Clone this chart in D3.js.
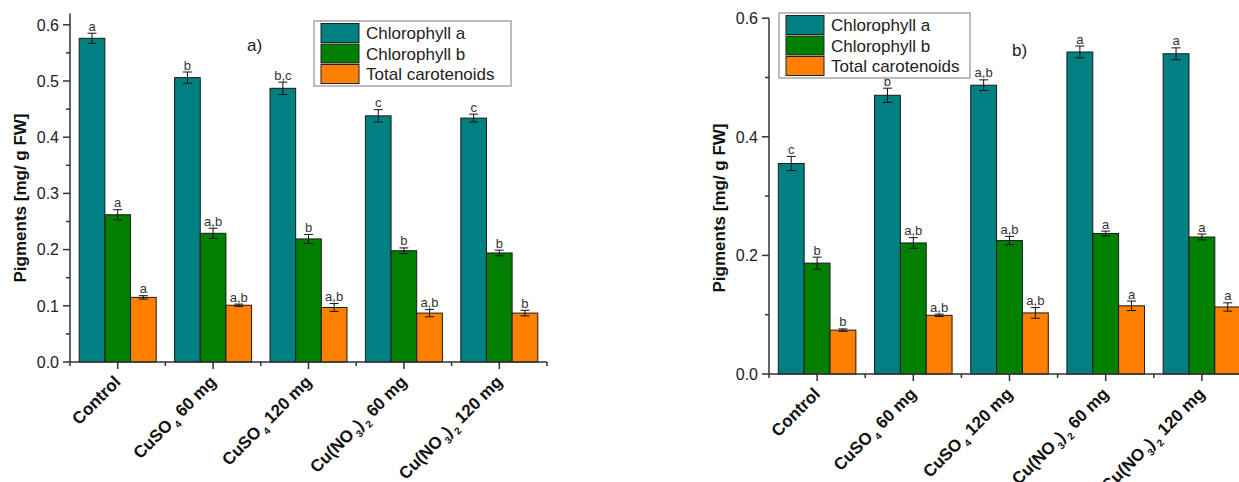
<!DOCTYPE html>
<html><head><meta charset="utf-8">
<script src="https://cdn.jsdelivr.net/npm/d3@7"></script>
<style>body{margin:0;background:#fff;} svg{display:block;}</style>
</head><body>
<svg id="chart" width="1239" height="482"></svg>
<script>
// ---------- DATA ----------
const categories = ["Control", "CuSO4 60 mg", "CuSO4 120 mg", "Cu(NO3)2 60 mg", "Cu(NO3)2 120 mg"];
const seriesNames = ["Chlorophyll a", "Chlorophyll b", "Total carotenoids"];
const seriesColors = ["#008080", "#007f00", "#ff8000"];

// panel a)
const a_chlA = [0.576, 0.506, 0.487, 0.438, 0.434];
const a_chlA_err = [0.009, 0.010, 0.011, 0.011, 0.007];
const a_chlB = [0.262, 0.229, 0.219, 0.198, 0.194];
const a_chlB_err = [0.009, 0.009, 0.008, 0.005, 0.005];
const a_car = [0.115, 0.101, 0.097, 0.087, 0.087];
const a_car_err = [0.003, 0.002, 0.007, 0.0066, 0.005];
const a_lettersA = ["a", "b", "b,c", "c", "c"];
const a_lettersB = ["a", "a,b", "b", "b", "b"];
const a_lettersC = ["a", "a,b", "a,b", "a,b", "b"];
const a_ticks = [0.0, 0.1, 0.2, 0.3, 0.4, 0.5, 0.6];

// panel b)
const b_chlA = [0.355, 0.470, 0.487, 0.543, 0.540];
const b_chlA_err = [0.012, 0.012, 0.009, 0.010, 0.010];
const b_chlB = [0.187, 0.221, 0.225, 0.237, 0.231];
const b_chlB_err = [0.010, 0.009, 0.007, 0.004, 0.005];
const b_car = [0.074, 0.099, 0.103, 0.115, 0.113];
const b_car_err = [0.002, 0.002, 0.009, 0.008, 0.007];
const b_lettersA = ["c", "b", "a,b", "a", "a"];
const b_lettersB = ["b", "a,b", "a,b", "a", "a"];
const b_lettersC = ["b", "a,b", "a,b", "a", "a"];
const b_ticks = [0.0, 0.2, 0.4, 0.6];

const yTitle = "Pigments [mg/ g FW]";

// ---------- DRAW ----------
const svg = d3.select("#chart");
const FONT = "'Liberation Sans', Arial, sans-serif";
const AXIS = "#333";

function addLabel(textSel, label) {
  const sp = label.indexOf(" ");
  const chem = sp < 0 ? label : label.slice(0, sp);
  const rest = sp < 0 ? "" : label.slice(sp);
  const parts = chem.split(/(\d)/).filter(s => s.length);
  let sub = false;
  parts.forEach(p => {
    const isDigit = /^\d$/.test(p);
    const t = textSel.append("tspan").text(p);
    if (isDigit && !sub) { t.attr("dy", 5).attr("font-size", "10px").attr("dx", 2); sub = true; }
    else if (isDigit && sub) { t.attr("font-size", "10px"); }
    else if (!isDigit && sub) { t.attr("dy", -5); sub = false; }
  });
  if (rest) {
    const t = textSel.append("tspan").text(rest);
    if (sub) t.attr("dy", -5);
  }
}

function drawPanel(cfg) {
  const g = svg.append("g");
  const y = d3.scaleLinear().domain(cfg.yDomain).range([cfg.y0, cfg.yTop]);
  const x = d3.scaleBand().domain(categories).range([cfg.x0, cfg.x0 + cfg.bandW * categories.length]).padding(0);
  const bw = x.bandwidth();
  const inner = d3.scaleBand().domain(seriesNames)
    .range([bw * (1 - cfg.groupFrac) / 2, bw * (1 + cfg.groupFrac) / 2]).padding(0);

  const series = [
    { name: seriesNames[0], vals: cfg.chlA, errs: cfg.chlAErr, letters: cfg.lA },
    { name: seriesNames[1], vals: cfg.chlB, errs: cfg.chlBErr, letters: cfg.lB },
    { name: seriesNames[2], vals: cfg.car, errs: cfg.carErr, letters: cfg.lC }
  ];

  const letterG = [];
  series.forEach((s, si) => {
    const data = categories.map((c, i) => ({ c, v: s.vals[i], e: s.errs[i], l: s.letters[i] }));
    const sg = g.append("g");
    sg.selectAll("rect").data(data).join("rect")
      .attr("x", d => x(d.c) + inner(s.name))
      .attr("y", d => y(d.v))
      .attr("width", inner.bandwidth())
      .attr("height", d => y(0) - y(d.v))
      .attr("fill", seriesColors[si])
      .attr("stroke", "#1a1a1a").attr("stroke-width", 1);
    const cx = d => x(d.c) + inner(s.name) + inner.bandwidth() / 2;
    sg.selectAll("line.eb").data(data).join("line").attr("class", "eb")
      .attr("x1", cx).attr("x2", cx)
      .attr("y1", d => y(d.v + d.e)).attr("y2", d => y(d.v - d.e))
      .attr("stroke", "#111").attr("stroke-width", 1);
    ["t", "b"].forEach(k => {
      sg.selectAll("line.cap" + k).data(data).join("line")
        .attr("class", "cap" + k)
        .attr("x1", d => cx(d) - 4.5).attr("x2", d => cx(d) + 4.5)
        .attr("y1", d => y(k === "t" ? d.v + d.e : d.v - d.e))
        .attr("y2", d => y(k === "t" ? d.v + d.e : d.v - d.e))
        .attr("stroke", "#111").attr("stroke-width", 1);
    });
    sg.selectAll("text").data(data).join("text")
      .attr("x", cx).attr("y", d => y(d.v + d.e) - 2.5)
      .attr("text-anchor", "middle").attr("font-family", FONT)
      .attr("font-size", "13px").attr("fill", "#333")
      .text(d => d.l);
  });

  // y axis
  const ya = g.append("g").attr("transform", `translate(${cfg.x0},0)`);
  ya.append("line").attr("x1", 0).attr("x2", 0).attr("y1", cfg.y0).attr("y2", cfg.yTop)
    .attr("stroke", AXIS).attr("stroke-width", 1.5);
  ya.selectAll("line.maj").data(cfg.ticks).join("line").attr("class", "maj")
    .attr("x1", -7).attr("x2", 0).attr("y1", d => y(d)).attr("y2", d => y(d))
    .attr("stroke", AXIS).attr("stroke-width", 1.5);
  ya.selectAll("line.min").data(cfg.minor).join("line").attr("class", "min")
    .attr("x1", -4).attr("x2", 0).attr("y1", d => y(d)).attr("y2", d => y(d))
    .attr("stroke", AXIS).attr("stroke-width", 1.5);
  ya.selectAll("text").data(cfg.ticks).join("text")
    .attr("x", -11).attr("y", d => y(d)).attr("dy", "0.36em")
    .attr("text-anchor", "end").attr("font-family", FONT).attr("font-size", "16px").attr("fill", "#222")
    .text(d => d3.format(".1f")(d));

  // y title
  g.append("text").attr("transform", `translate(${cfg.titleX},${cfg.titleY}) rotate(-90)`)
    .attr("text-anchor", "middle").attr("font-family", FONT).attr("font-weight", "bold")
    .attr("font-size", "17px").attr("fill", "#111").text(yTitle);

  // x axis
  const xEnd = cfg.x0 + cfg.bandW * categories.length;
  const xa = g.append("g");
  xa.append("line").attr("x1", cfg.x0).attr("x2", xEnd).attr("y1", cfg.y0).attr("y2", cfg.y0)
    .attr("stroke", AXIS).attr("stroke-width", 1.5);
  xa.selectAll("line.maj").data(categories).join("line").attr("class", "maj")
    .attr("x1", d => x(d) + bw / 2).attr("x2", d => x(d) + bw / 2)
    .attr("y1", cfg.y0).attr("y2", cfg.y0 + 7)
    .attr("stroke", AXIS).attr("stroke-width", 1.5);
  const bounds = categories.map(c => x(c)).concat([xEnd]);
  xa.selectAll("line.min").data(bounds).join("line").attr("class", "min")
    .attr("x1", d => d).attr("x2", d => d).attr("y1", cfg.y0).attr("y2", cfg.y0 + 4)
    .attr("stroke", AXIS).attr("stroke-width", 1.5);
  categories.forEach(c => {
    const t = xa.append("text")
      .attr("transform", `translate(${x(c) + bw / 2 + 4},${cfg.y0 + 21}) rotate(-45)`)
      .attr("text-anchor", "end")
      .attr("font-family", FONT).attr("font-weight", "bold").attr("font-size", "17px").attr("fill", "#111");
    addLabel(t, c);
  });

  // legend
  const lg = g.append("g").attr("transform", `translate(${cfg.legX},${cfg.legY})`);
  lg.append("rect").attr("width", cfg.legW).attr("height", 65)
    .attr("fill", "#fff").attr("stroke", "#999").attr("stroke-width", 1.3);
  seriesNames.forEach((n, i) => {
    lg.append("rect").attr("x", 7).attr("y", 2.5 + i * 20.5).attr("width", 38).attr("height", 19)
      .attr("fill", seriesColors[i]).attr("stroke", "#222").attr("stroke-width", 1);
    lg.append("text").attr("x", 52).attr("y", 12 + i * 20.5).attr("dy", "0.36em")
      .attr("font-family", FONT).attr("font-size", "17px").attr("fill", "#222").text(n);
  });

  // panel tag
  g.append("text").attr("x", cfg.tagX).attr("y", cfg.tagY).attr("dy", "0.36em")
    .attr("font-family", FONT).attr("font-size", "17px").attr("fill", "#222").text(cfg.tag);
}

drawPanel({
  yDomain: [0, 0.62], y0: 362, yTop: 362 - 0.62 * 562,
  x0: 70, bandW: 95.4, groupFrac: 0.807,
  chlA: a_chlA, chlAErr: a_chlA_err, chlB: a_chlB, chlBErr: a_chlB_err, car: a_car, carErr: a_car_err,
  lA: a_lettersA, lB: a_lettersB, lC: a_lettersC,
  ticks: a_ticks, minor: [0.05, 0.15, 0.25, 0.35, 0.45, 0.55],
  titleX: 26, titleY: 198,
  legX: 314, legY: 21, legW: 197, tag: "a)", tagX: 247, tagY: 45
});
drawPanel({
  yDomain: [0, 0.6], y0: 374, yTop: 374 - 0.6 * 593,
  x0: 769, bandW: 96.2, groupFrac: 0.806,
  chlA: b_chlA, chlAErr: b_chlA_err, chlB: b_chlB, chlBErr: b_chlB_err, car: b_car, carErr: b_car_err,
  lA: b_lettersA, lB: b_lettersB, lC: b_lettersC,
  ticks: b_ticks, minor: [0.1, 0.3, 0.5],
  titleX: 725, titleY: 208,
  legX: 779, legY: 13, legW: 191, tag: "b)", tagX: 1012, tagY: 50
});
</script>
</body></html>
